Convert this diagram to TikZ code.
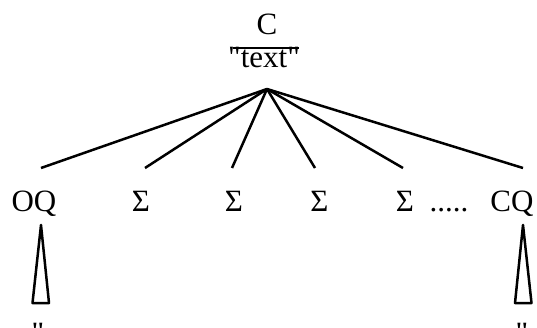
\documentclass[tikz,border=0pt]{standalone}
\usepackage{fontspec}
\setmainfont{Liberation Serif}[Ligatures=TeXOff]
\begin{document}
\begin{tikzpicture}[x=1pt,y=-1pt,
  lbl/.style={font=\fontsize{31}{31}\selectfont, inner sep=0pt, anchor=base},
  edge/.style={line width=2.5pt},
  tri/.style={line width=2.5pt, line join=round}]
\useasboundingbox (0,0) rectangle (537,328);
% top
\node[lbl] (C) at (267,35) {C};
\node[lbl] (txt) at (264,68) {"text"};
\draw[line width=1.8pt] (233,48) -- (299,48);
\coordinate (apex) at (267,89);
% children
\node[lbl] (oq) at (34,212) {OQ};
\node[lbl] (s1) at (141,212) {Σ};
\node[lbl] (s2) at (234,212) {Σ};
\node[lbl] (s3) at (319.5,212) {Σ};
\node[lbl] (s4) at (405,212) {Σ};
\node[lbl] (dots) at (449,212) {.....};
\node[lbl] (cq) at (512,212) {CQ};
% edge ends
\coordinate (e1) at (41,168);
\coordinate (e2) at (145,168);
\coordinate (e3) at (232,168);
\coordinate (e4) at (315,168);
\coordinate (e5) at (403,168);
\coordinate (e6) at (523,168);
\foreach \e in {e1,e2,e3,e4,e5,e6} \draw[edge] (apex) -- (\e);
% triangles
\coordinate (ta1) at (41,225);
\coordinate (tl1) at (32.5,303);
\coordinate (tr1) at (49,303);
\draw[tri] (ta1) -- (tl1) -- (tr1) -- cycle;
\coordinate (ta2) at (523,225);
\coordinate (tl2) at (515,303);
\coordinate (tr2) at (531.5,303);
\draw[tri] (ta2) -- (tl2) -- (tr2) -- cycle;
% bottom quotes
\node[lbl] (q1) at (38,343) {"};
\node[lbl] (q2) at (522,343) {"};
\end{tikzpicture}
\end{document}
